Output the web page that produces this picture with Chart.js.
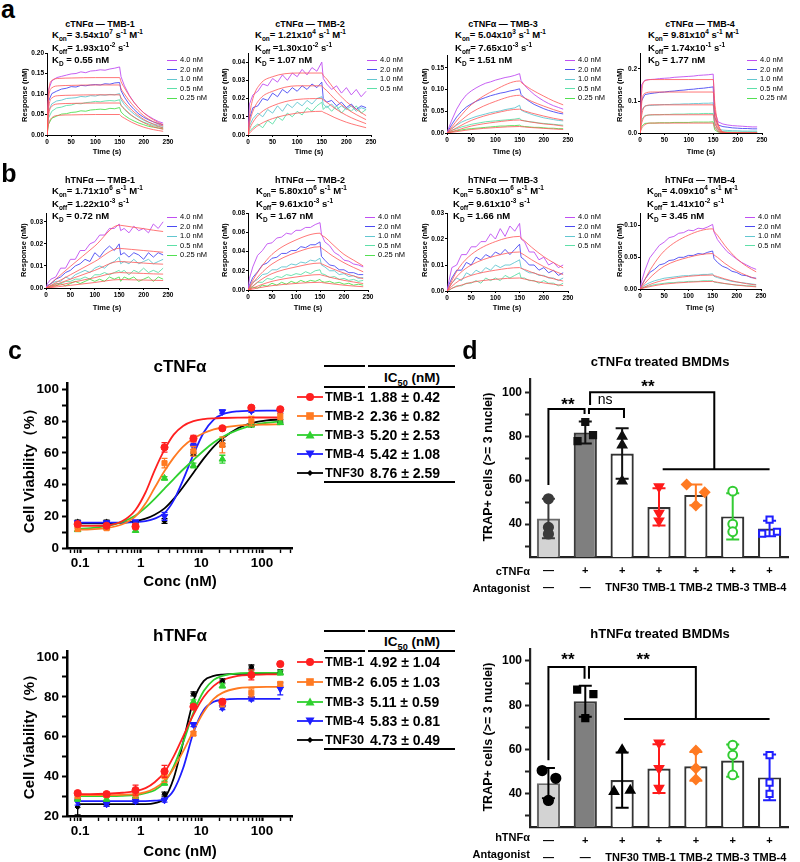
<!DOCTYPE html>
<html>
<head>
<meta charset="utf-8">
<title>TNFα antagonists</title>
<script src="https://cdn.jsdelivr.net/npm/chart.js@4.4.1/dist/chart.umd.min.js"></script>
<style>
  html, body { margin: 0; padding: 0; background: #fff; }
  body { position: relative; width: 800px; height: 862px; overflow: hidden; font-family: "Liberation Sans", Arial, sans-serif; color: #000; }
  canvas { position: absolute; }
  .t { position: absolute; white-space: nowrap; line-height: 1; }
  .t sub, .t sup { font-size: 68%; line-height: 0; }
  .ln { position: absolute; height: 0; }
</style>
</head>
<body>
<script>
// ---------- panels a / b : SPR sensorgrams ----------
const sprTime = [0, 3, 10, 20, 30, 40, 50, 60, 70, 80, 90, 100, 110, 120, 130, 140, 150, 153, 160, 170, 180, 190, 200, 210, 220, 230, 240];
const fitTime = [0, 3, 10, 25, 50, 100, 150, 153, 160, 175, 200, 220, 240];
const sprXTicks = [0, 50, 100, 150, 200, 250];
const concNames = ['4.0 nM', '2.0 nM', '1.0 nM', '0.5 nM', '0.25 nM'];

// cTNFα — TMB-1
const a1_40 = [0, .110, .132, .140, .143, .146, .149, .150, .154, .152, .156, .157, .159, .158, .161, .163, .166, .142, .120, .097, .079, .065, .054, .046, .039, .033, .029];
const a1_20 = [0, .082, .101, .107, .112, .114, .118, .117, .121, .120, .122, .123, .122, .125, .124, .127, .128, .108, .092, .075, .062, .051, .043, .037, .032, .028, .025];
const a1_10 = [0, .058, .076, .083, .085, .089, .090, .091, .094, .093, .096, .095, .098, .097, .099, .098, .101, .086, .074, .061, .051, .043, .036, .031, .027, .024, .021];
const a1_05 = [0, .041, .058, .066, .068, .072, .073, .077, .076, .079, .080, .082, .081, .083, .084, .083, .086, .073, .062, .051, .043, .036, .031, .027, .023, .020, .018];
const a1_025 = [0, .026, .041, .046, .051, .052, .055, .056, .059, .058, .061, .062, .063, .062, .065, .064, .067, .056, .048, .040, .034, .029, .025, .021, .019, .017, .015];
const a1_fit = [
  [0, .100, .133, .138, .139, .140, .140, .130, .115, .087, .054, .037, .025],
  [0, .085, .115, .120, .121, .122, .122, .113, .100, .076, .047, .032, .022],
  [0, .060, .090, .096, .097, .098, .098, .091, .080, .061, .038, .026, .017],
  [0, .045, .070, .076, .077, .078, .078, .072, .064, .048, .030, .020, .014],
  [0, .025, .042, .048, .049, .050, .050, .046, .041, .031, .019, .013, .009]];

// cTNFα — TMB-2
const a2_40 = [0, .017, .022, .024, .028, .027, .031, .029, .033, .030, .034, .032, .036, .033, .037, .035, .040, .031, .028, .025, .027, .023, .026, .022, .025, .021, .024];
const a2_20 = [0, .009, .015, .016, .020, .019, .023, .021, .025, .023, .026, .024, .027, .025, .028, .026, .029, .020, .018, .019, .016, .018, .015, .017, .014, .016, .015];
const a2_10 = [0, .005, .009, .012, .010, .014, .012, .016, .013, .017, .015, .018, .016, .019, .017, .020, .021, .017, .015, .017, .014, .016, .014, .016, .013, .015, .014];
const a2_05 = [0, .002, .004, .006, .004, .008, .006, .010, .008, .012, .010, .013, .011, .015, .013, .016, .018, .014, .016, .013, .016, .012, .015, .013, .016, .012, .014];
const a2_fit = [
  [0, .010, .020, .028, .032, .034, .034, .0327, .0307, .0253, .0183, .0141, .0106],
  [0, .006, .013, .020, .024, .027, .027, .026, .0244, .0201, .0145, .0112, .0084],
  [0, .003, .007, .012, .016, .0195, .020, .0192, .018, .0149, .0108, .0083, .0062],
  [0, .001, .003, .006, .009, .012, .013, .0125, .0117, .0097, .007, .0054, .004]];

// cTNFα — TMB-3
const a3_40 = [0, .010, .030, .055, .074, .088, .097, .104, .110, .115, .118, .122, .125, .128, .130, .133, .137, .121, .110, .099, .089, .081, .074, .068, .063, .059, .055];
const a3_20 = [0, .006, .020, .037, .050, .060, .067, .073, .078, .082, .086, .089, .092, .094, .097, .099, .102, .089, .081, .073, .066, .061, .056, .052, .049, .046, .044];
const a3_10 = [0, .003, .010, .018, .025, .030, .034, .038, .041, .044, .047, .049, .051, .054, .056, .058, .064, .053, .049, .045, .041, .038, .035, .033, .031, .029, .028];
const a3_05 = [0, .002, .006, .010, .014, .017, .020, .022, .024, .026, .027, .028, .029, .030, .031, .032, .034, .030, .028, .026, .025, .023, .022, .021, .020, .019, .018];
const a3_025 = [0, .001, .003, .005, .007, .009, .010, .011, .012, .013, .014, .015, .016, .016, .017, .017, .018, .016, .015, .014, .013, .013, .012, .011, .011, .010, .010];
const a3_fit = [
  [0, .004, .014, .035, .065, .100, .120, .117, .111, .100, .085, .074, .065],
  [0, .003, .010, .025, .047, .073, .087, .085, .081, .073, .062, .054, .047],
  [0, .002, .006, .015, .029, .046, .055, .054, .051, .046, .039, .034, .030],
  [0, .001, .003, .008, .016, .025, .030, .029, .028, .025, .021, .019, .016],
  [0, .0005, .0015, .004, .008, .0125, .015, .0146, .0139, .0125, .0107, .0093, .0081]];

// cTNFα — TMB-4
const a4_40 = [0, .150, .165, .167, .168, .170, .171, .172, .174, .175, .176, .177, .178, .180, .181, .182, .184, .070, .035, .028, .025, .023, .022, .021, .020, .019, .019];
const a4_20 = [0, .100, .120, .123, .125, .127, .128, .130, .131, .133, .134, .136, .137, .139, .140, .142, .144, .050, .025, .020, .018, .016, .015, .014, .014, .013, .013];
const a4_10 = [0, .070, .085, .086, .087, .088, .089, .089, .090, .090, .091, .091, .092, .092, .093, .093, .094, .030, .012, .009, .008, .007, .007, .006, .006, .006, .006];
const a4_05 = [0, .040, .055, .056, .057, .057, .058, .058, .059, .059, .059, .060, .060, .060, .061, .061, .061, .020, .006, .004, .004, .003, .003, .003, .003, .003, .003];
const a4_025 = [0, .020, .030, .031, .031, .032, .032, .032, .033, .033, .033, .033, .034, .034, .034, .034, .035, .010, .003, .002, .002, .002, .002, .002, .002, .002, .002];
const a4_fit = [
  [0, .120, .163, .167, .167, .167, .167, .099, .029, .002, 0, 0, 0],
  [0, .085, .124, .128, .128, .128, .128, .076, .022, .002, 0, 0, 0],
  [0, .050, .083, .088, .088, .088, .088, .052, .015, .001, 0, 0, 0],
  [0, .028, .052, .057, .057, .057, .057, .034, .010, .001, 0, 0, 0],
  [0, .013, .026, .031, .031, .031, .031, .018, .005, 0, 0, 0, 0]];

// hTNFα — TMB-1
const b1_40 = [0, .002, .004, .005, .009, .009, .013, .013, .017, .017, .020, .021, .024, .024, .027, .027, .029, .026, .027, .025, .028, .026, .027, .025, .029, .027, .030];
const b1_20 = [0, .001, .002, .004, .005, .007, .008, .010, .011, .013, .012, .016, .014, .017, .019, .017, .020, .015, .016, .014, .016, .015, .013, .016, .014, .016, .015];
const b1_10 = [0, .001, .002, .003, .003, .005, .004, .006, .007, .008, .007, .009, .010, .009, .011, .012, .014, .011, .012, .011, .013, .011, .012, .013, .011, .012, .013];
const b1_05 = [0, 0, .001, .002, .002, .003, .003, .004, .004, .005, .004, .006, .006, .007, .006, .007, .008, .007, .008, .006, .008, .007, .009, .007, .008, .007, .009];
const b1_025 = [0, 0, .001, .001, .002, .001, .002, .003, .002, .003, .004, .003, .004, .003, .005, .004, .005, .003, .005, .004, .005, .003, .004, .005, .003, .005, .004];
const b1_fit = [
  [0, .0006, .002, .005, .0098, .019, .0285, .0284, .0282, .0277, .0269, .0262, .0256],
  [0, .0004, .0012, .003, .006, .012, .018, .0179, .0178, .0175, .017, .0166, .0162],
  [0, .0002, .0008, .002, .004, .008, .012, .012, .0119, .0117, .0113, .011, .0108],
  [0, .0001, .0005, .0012, .0024, .0047, .007, .007, .0069, .0068, .0066, .0064, .0063],
  [0, .0001, .0002, .0006, .0012, .0025, .0038, .0038, .0038, .0037, .0036, .0035, .0034]];

// hTNFα — TMB-2
const b2_40 = [0, .012, .024, .036, .041, .048, .049, .054, .055, .059, .058, .062, .062, .065, .065, .068, .070, .058, .050, .046, .039, .036, .031, .030, .027, .026, .024];
const b2_20 = [0, .005, .013, .019, .026, .028, .033, .034, .038, .038, .041, .041, .045, .044, .047, .047, .050, .035, .031, .026, .025, .021, .021, .018, .018, .016, .016];
const b2_10 = [0, .003, .008, .011, .016, .017, .021, .021, .024, .024, .027, .026, .029, .028, .031, .030, .033, .026, .024, .020, .020, .016, .017, .014, .015, .012, .013];
const b2_05 = [0, .002, .004, .008, .008, .012, .011, .014, .013, .016, .015, .017, .016, .019, .017, .020, .021, .017, .016, .013, .014, .011, .012, .010, .011, .009, .010];
const b2_025 = [0, .001, .003, .002, .005, .004, .007, .005, .008, .006, .009, .007, .010, .008, .010, .009, .011, .009, .008, .009, .007, .008, .006, .007, .005, .006, .005];
const b2_fit = [
  [0, .003, .010, .022, .037, .052, .059, .057, .055, .048, .037, .031, .025],
  [0, .002, .007, .016, .027, .039, .045, .0437, .0413, .0358, .0283, .0234, .0189],
  [0, .001, .004, .010, .017, .024, .028, .0272, .0257, .0223, .0176, .0145, .0118],
  [0, .0005, .002, .005, .009, .0135, .016, .0155, .0147, .0127, .010, .0083, .0067],
  [0, .0003, .001, .0025, .0045, .0068, .008, .0078, .0073, .0064, .005, .0041, .0034]];

// hTNFα — TMB-3
const b3_40 = [0, .003, .009, .010, .014, .014, .017, .017, .019, .019, .022, .020, .024, .021, .025, .023, .026, .020, .019, .015, .015, .012, .013, .010, .011, .009, .010];
const b3_20 = [0, .002, .005, .008, .008, .011, .010, .013, .012, .014, .013, .015, .014, .016, .014, .016, .018, .013, .012, .010, .010, .008, .009, .007, .008, .006, .007];
const b3_10 = [0, .001, .003, .005, .004, .007, .006, .008, .007, .009, .008, .010, .009, .010, .010, .011, .012, .009, .008, .007, .007, .006, .006, .005, .005, .004, .005];
const b3_05 = [0, 0, .001, .002, .002, .003, .003, .004, .003, .005, .004, .005, .004, .006, .005, .006, .007, .005, .005, .004, .004, .003, .004, .003, .003, .002, .003];
const b3_fit = [
  [0, .001, .004, .009, .014, .019, .021, .0204, .0193, .0168, .0132, .0109, .0089],
  [0, .0008, .003, .0065, .010, .0135, .015, .0146, .0138, .012, .0094, .0078, .0063],
  [0, .0005, .0018, .004, .006, .008, .009, .0087, .0083, .0072, .0057, .0047, .0038],
  [0, .0003, .001, .002, .0033, .0045, .005, .0049, .0046, .004, .0031, .0026, .0021]];

// hTNFα — TMB-4
const b4_40 = [0, .011, .029, .049, .059, .069, .074, .081, .083, .088, .089, .093, .092, .096, .095, .098, .102, .090, .078, .068, .059, .053, .047, .042, .038, .034, .031];
const b4_20 = [0, .005, .015, .026, .031, .038, .040, .045, .046, .050, .050, .053, .053, .056, .055, .058, .060, .048, .042, .036, .033, .028, .026, .022, .021, .018, .017];
const b4_10 = [0, .002, .006, .010, .013, .015, .017, .018, .019, .020, .021, .021, .022, .022, .023, .023, .024, .020, .018, .016, .014, .012, .011, .010, .009, .008, .007];
const b4_05 = [0, .001, .003, .005, .007, .008, .009, .010, .010, .011, .011, .012, .012, .012, .013, .013, .013, .011, .010, .009, .008, .007, .006, .006, .005, .005, .004];
const b4_fit = [
  [0, .004, .015, .035, .060, .085, .095, .091, .085, .069, .048, .036, .027],
  [0, .0025, .009, .021, .036, .050, .056, .0537, .050, .0406, .0285, .0215, .016],
  [0, .001, .0035, .0085, .014, .020, .022, .0211, .0196, .016, .0112, .0084, .0063],
  [0, .0005, .002, .0045, .0077, .0107, .012, .0115, .0107, .0087, .0061, .0046, .0034]];

// ---------- panel c : cell viability ----------
const concs = [0.0914, 0.274, 0.823, 2.47, 7.41, 22.2, 66.7, 200];
const fitConc = [0.09, 0.15, 0.27, 0.5, 0.82, 1.2, 1.7, 2.47, 3.5, 5, 7.41, 11, 16, 22.2, 40, 66.7, 120, 200];
const concTicks = [0.07, 0.08, 0.09, 0.1, 0.2, 0.3, 0.4, 0.5, 0.6, 0.7, 0.8, 0.9, 1, 2, 3, 4, 5, 6, 7, 8, 9, 10, 20, 30, 40, 50, 60, 70, 80, 90, 100, 200, 300];
const concLabelTicks = [0.1, 1, 10, 100];
const drugNames = ['TMB-1', 'TMB-2', 'TMB-3', 'TMB-4', 'TNF30'];
const cIC50 = ['1.88 ± 0.42', '2.36 ± 0.82', '5.20 ± 2.53', '5.42 ± 1.08', '8.76 ± 2.59'];
const hIC50 = ['4.92 ± 1.04', '6.05 ± 1.03', '5.11 ± 0.59', '5.83 ± 0.81', '4.73 ± 0.49'];

const cPts = [
  [15, 14, 13.5, 63.5, 69, 75.5, 88.5, 87.5],
  [12, 12.5, 14, 53.5, 61, 65, 80, 83],
  [11.5, 13, 11, 44, 52, 56, 77.5, 79],
  [16, 16, 16.5, 20, 64, 86, 86.5, 86],
  [16.5, 16.5, 16, 17, 59.5, 66, 77.5, 80]];
const cErr = [
  [1, 1, 1.5, 3, 2, 1, 1, 1],
  [1, 1, 1, 3, 3, 5, 3, 2],
  [1, 1, 1, 1, 1.5, 2.5, 1, 1],
  [1, 1, 1, 2.5, 2, 1, 1, 1],
  [1, 1, 1, 1.5, 1, 2, 1, 1]];
const cFit = [
  [14, 14, 14.2, 17, 24, 35, 49, 62, 71.5, 77, 80, 81.3, 81.8, 82, 82.2, 82.3, 82.3, 82.3],
  [11.5, 11.8, 12.5, 15, 20, 28, 38, 48.5, 57, 64, 69, 72.5, 74.8, 76, 77.2, 77.7, 77.9, 78],
  [12, 12.5, 13.8, 16.5, 20.5, 25.5, 31, 37.5, 43.5, 49.5, 55.5, 61.5, 66.5, 70, 74.5, 77.2, 79, 79.8],
  [16, 16, 16, 16, 16.3, 17, 18.5, 22, 30, 43, 59, 73, 81, 84.3, 86.2, 86.5, 86.6, 86.6],
  [15.5, 15.5, 15.6, 16, 17, 18.5, 21, 25, 31, 38.5, 47.5, 56.5, 64, 69, 75.5, 78.7, 80.5, 81]];

const hPts = [
  [31.5, 31, 33, 42.5, 75, 77.5, 91, 96.5],
  [30, 30.5, 31, 40, 61.5, 77, 82, 86.5],
  [28.5, 28.5, 30, 36.5, 77.5, 85.5, 92, 92],
  [27, 26, 27.5, 28, 66, 74.5, 79, 84],
  [24.5, 26, 27.5, 31, 81.5, 88, 95, 92.5]];
const hErr = [
  [1, 1, 2.5, 3, 1, 1, 2.5, 1],
  [1, 1, 2, 3, 1, 2, 2, 1],
  [1, 1, 1, 1, 1, 1, 1, 1],
  [1.5, 1, 1, 1, 1, 1, 1, 3],
  [4, 1, 1, 1, 1, 1, 1, 1]];
const hFit = [
  [31, 31, 31.2, 31.7, 32.5, 34, 37, 42, 50, 60, 71, 80, 85.5, 88.3, 90.5, 91, 91.3, 91.3],
  [30.5, 30.5, 30.5, 30.7, 31, 32, 34, 37.5, 44, 52.5, 63, 72.5, 79, 82, 84.3, 84.8, 85, 85],
  [30, 30, 30, 30.2, 30.5, 31.5, 33, 37, 45, 57, 72, 83, 88.5, 90.5, 91.8, 92, 92, 92],
  [27.5, 27.5, 27.5, 27.5, 27.5, 27.5, 27.7, 28.5, 33, 44, 62, 73.5, 77.5, 78.5, 79, 79, 79, 79],
  [26, 26, 26, 26, 26, 26, 26.5, 29, 39, 57, 78, 88, 90.5, 91.2, 91.5, 91.5, 91.5, 91.5]];

// ---------- panel d : TRAP+ cells ----------
const dCategories = [['—', '—'], ['+', '—'], ['+', 'TNF30'], ['+', 'TMB-1'], ['+', 'TMB-2'], ['+', 'TMB-3'], ['+', 'TMB-4']];
const dYTicks = [30, 40, 50, 60, 70, 80, 90, 100];
const dTopMean = [42.5, 81.7, 72.1, 47.8, 53.3, 43.5, 38.0];
const dTopSD = [9, 5, 11.5, 8.5, 4.7, 10.5, 3.5];
const dTopPts = [[51.5, 38.5, 35.5], [86.5, 80.5, 77.8], [80, 76, 59.6], [57, 45, 41.5], [58, 54.5, 48.5], [55, 40, 36.5], [42, 35.6, 36.5]];
const dTopJitter = [[0, 0, 0], [0, 0.21, -0.21], [0, 0, 0], [0, 0, 0], [-0.25, 0.24, 0], [0, 0, 0], [0, -0.2, 0.2]];
const dBotMean = [44.8, 81.8, 46.2, 51.4, 52.4, 55.0, 47.4];
const dBotSD = [6.8, 7.0, 12.5, 11.0, 6.5, 7.3, 10.3];
const dBotPts = [[50.5, 47, 37], [87, 85, 74.2], [59.8, 41, 41.5], [63, 51.5, 42.5], [59.5, 51.5, 46.5], [62, 57.5, 48.5], [57.5, 45, 40]];
const dBotJitter = [[-0.17, 0.2, 0], [-0.22, 0.22, 0], [0, -0.22, 0.22], [0, 0, 0], [0, 0, 0], [0, 0, 0], [0, 0, 0]];

// significance brackets, in (bar index, % value)
const dTopBrackets = [
  [[0, 57.8], [0, 92.4], [0.98, 92.4], [0.98, 90.1]],
  [[1.1, 90.1], [1.1, 92.4], [2.05, 92.4], [2.05, 88.3]],
  [[1.13, 94.2], [1.13, 100], [4.5, 100], [4.5, 65]],
  [[3.1, 65], [6.0, 65]]];
const dTopMarks = [['**', 0.53, 96.0], ['ns', 1.54, 96.4], ['**', 2.7, 104.2]];
const dBotBrackets = [
  [[0, 55.1], [0, 97.3], [0.98, 97.3], [0.98, 92]],
  [[1.1, 92], [1.1, 97.3], [4.0, 97.3], [4.0, 73.8]],
  [[2.05, 73.8], [6.0, 73.8]]];
const dBotMarks = [['**', 0.53, 102.3], ['**', 2.57, 102.3]];

// ---------- styling ----------
const FONT = "'Liberation Sans', Arial, Helvetica, sans-serif";
Chart.defaults.font.family = FONT;
Chart.defaults.color = '#000';
const SPR_COLORS = ['#c04ff2', '#4b4bf3', '#62c6d0', '#5ee0a8', '#52e052'];
const FIT_RED = '#ff5555';
const DRUG_COLORS = ['#ff2020', '#ff7a22', '#2fd12f', '#1e1eff', '#000000'];
const DRUG_STYLE = ['circle', 'rect', 'triangle', 'triangle', 'rectRot'];
const DRUG_ROT = [0, 0, 0, 180, 0];
const DRUG_R = [3.6, 3.6, 3.8, 3.8, 2.6];

function mount(a, m) {
  const cv = document.createElement('canvas');
  const w = a.x1 - a.x0 + m.l + m.r, h = a.y1 - a.y0 + m.t + m.b;
  cv.width = w; cv.height = h;
  Object.assign(cv.style, { left: (a.x0 - m.l) + 'px', top: (a.y0 - m.t) + 'px', width: w + 'px', height: h + 'px' });
  document.body.appendChild(cv);
  return cv;
}
function frame(m) {
  return {
    responsive: false, maintainAspectRatio: false, devicePixelRatio: 1, animation: false, events: [],
    layout: { padding: { left: 0, top: m.t, right: m.r, bottom: 0 } },
    plugins: { legend: { display: false }, tooltip: { enabled: false } }
  };
}
const setTicks = list => s => { s.ticks = list.map(v => ({ value: v })); };

function txt(html, x, y, css, anchor, rot) {
  const d = document.createElement('div');
  d.className = 't';
  d.innerHTML = html;
  d.style.cssText += css;
  d.style.left = x + 'px';
  d.style.top = y + 'px';
  const ax = anchor === 'l' ? '0' : anchor === 'r' ? '-100%' : '-50%';
  d.style.transform = 'translate(' + ax + ',-50%)' + (rot ? ' rotate(-90deg)' : '');
  document.body.appendChild(d);
  return d;
}
function hline(x0, x1, y, w, color) {
  const d = document.createElement('div');
  d.className = 'ln';
  Object.assign(d.style, { left: x0 + 'px', top: (y - w / 2) + 'px', width: (x1 - x0) + 'px', borderTop: w + 'px solid ' + color });
  document.body.appendChild(d);
}

// error bars drawn from dataset.errors through the y scale
const errorBars = {
  id: 'errorBars',
  beforeDatasetDraw(chart, args) { drawErrors(chart, args, 'before'); },
  afterDatasetDraw(chart, args) { drawErrors(chart, args, 'after'); }
};
function drawErrors(chart, args, when) {
  const ds = chart.data.datasets[args.index];
  if (!ds.errors || (ds.errorWhen || 'before') !== when) return;
  const ys = chart.scales[args.meta.yAxisID];
  const ctx = chart.ctx;
  ctx.save();
  args.meta.data.forEach((el, j) => {
    const e = ds.errors[j];
    if (!e) return;
    const raw = ds.data[j];
    const v = typeof raw === 'object' ? raw.y : raw;
    const x = el.x, top = ys.getPixelForValue(v + e), bot = ys.getPixelForValue(v - e), h = ds.capHalf || 3;
    ctx.strokeStyle = Array.isArray(ds.errorColor) ? ds.errorColor[j] : ds.errorColor;
    ctx.lineWidth = ds.errorWidth || 1.5;
    ctx.beginPath();
    ctx.moveTo(x, top); ctx.lineTo(x, bot);
    ctx.moveTo(x - h, top); ctx.lineTo(x + h, top);
    ctx.moveTo(x - h, bot); ctx.lineTo(x + h, bot);
    ctx.stroke();
  });
  ctx.restore();
}

// ---------- SPR panels ----------
function sprChart(area, yMax, yTicks, dec, series, fits) {
  const m = { l: 32, t: 8, r: 12, b: 16 };
  const cv = mount(area, m);
  const datasets = [];
  fits.forEach(f => datasets.push({
    data: fitTime.map((t, i) => ({ x: t, y: f[i] })), borderColor: FIT_RED, borderWidth: 0.8,
    pointRadius: 0, cubicInterpolationMode: 'monotone'
  }));
  series.forEach((s, k) => datasets.push({
    data: sprTime.map((t, i) => ({ x: t, y: s[i] })), borderColor: SPR_COLORS[k], borderWidth: 0.9,
    pointRadius: 0, tension: 0
  }));
  const axisFont = { size: 6.5, weight: 'bold' };
  new Chart(cv, {
    type: 'line',
    data: { datasets },
    options: Object.assign(frame(m), {
      scales: {
        x: {
          type: 'linear', min: 0, max: 250, afterBuildTicks: setTicks(sprXTicks), afterFit: s => { s.height = m.b; },
          border: { color: '#000', width: 1 }, grid: { drawOnChartArea: false, tickLength: 2, color: '#000' },
          ticks: { font: axisFont, padding: 1, maxRotation: 0, autoSkip: false }
        },
        y: {
          type: 'linear', min: 0, max: yMax, afterBuildTicks: setTicks(yTicks), afterFit: s => { s.width = m.l; },
          border: { color: '#000', width: 1 }, grid: { drawOnChartArea: false, tickLength: 2, color: '#000' },
          ticks: { font: axisFont, padding: 1, autoSkip: false, callback: v => v.toFixed(dec) }
        }
      }
    })
  });
}

function sprText(o) {
  txt(o.title, o.cx, o.ty, 'font-weight:bold;font-size:9px;');
  txt('K<sub>on</sub>= ' + o.kon, o.kx, o.ty + 11, 'font-weight:bold;font-size:9.5px;', 'l');
  txt('K<sub>off</sub>' + o.koff, o.kx, o.ty + 24, 'font-weight:bold;font-size:9.5px;', 'l');
  txt('K<sub>D</sub> = ' + o.kd, o.kx, o.ty + 36, 'font-weight:bold;font-size:9.5px;', 'l');
  for (let k = 0; k < o.n; k++) {
    const y = o.ly + k * 9.6;
    hline(o.lx, o.lx + 10, y, 1, SPR_COLORS[k]);
    txt(concNames[k], o.lx + 13, y, 'font-size:7.5px;', 'l');
  }
  txt('Response (nM)', o.rx, o.ry, 'font-weight:bold;font-size:7.5px;', 'c', true);
  txt('Time (s)', o.xc, o.xy, 'font-weight:bold;font-size:7.5px;');
}

const tk2 = [0, .05, .10, .15, .20];
sprChart({ x0: 47, x1: 168, y0: 53, y1: 135 }, 0.20, tk2, 2, [a1_40, a1_20, a1_10, a1_05, a1_025], a1_fit);
sprChart({ x0: 248, x1: 371, y0: 53, y1: 135 }, 0.045, [0, .01, .02, .03, .04], 2, [a2_40, a2_20, a2_10, a2_05], a2_fit);
sprChart({ x0: 447, x1: 568, y0: 55, y1: 133 }, 0.18, [0, .05, .10, .15], 2, [a3_40, a3_20, a3_10, a3_05, a3_025], a3_fit);
sprChart({ x0: 640, x1: 762, y0: 53, y1: 133 }, 0.25, [0, .1, .2], 1, [a4_40, a4_20, a4_10, a4_05, a4_025], a4_fit);
sprChart({ x0: 46, x1: 168, y0: 213, y1: 288 }, 0.034, [0, .01, .02, .03], 2, [b1_40, b1_20, b1_10, b1_05, b1_025], b1_fit);
sprChart({ x0: 248, x1: 368, y0: 213, y1: 290 }, 0.08, [0, .02, .04, .06, .08], 2, [b2_40, b2_20, b2_10, b2_05, b2_025], b2_fit);
sprChart({ x0: 447, x1: 568, y0: 213, y1: 291 }, 0.03, [0, .01, .02, .03], 2, [b3_40, b3_20, b3_10, b3_05], b3_fit);
sprChart({ x0: 640, x1: 761, y0: 213, y1: 289 }, 0.12, [0, .05, .10], 2, [b4_40, b4_20, b4_10, b4_05], b4_fit);

sprText({ title: 'cTNFα — TMB-1', cx: 100, ty: 24, kx: 52, kon: '3.54x10<sup>7</sup> s<sup>-1</sup> M<sup>-1</sup>', koff: '= 1.93x10<sup>-2</sup> s<sup>-1</sup>', kd: '0.55 nM', lx: 167, ly: 60, n: 5, rx: 25, ry: 95, xc: 107, xy: 152 });
sprText({ title: 'cTNFα — TMB-2', cx: 310, ty: 24, kx: 255, kon: '1.21x10<sup>4</sup> s<sup>-1</sup> M<sup>-1</sup>', koff: ' =1.30x10<sup>-2</sup> s<sup>-1</sup>', kd: '1.07 nM', lx: 367, ly: 60, n: 4, rx: 225, ry: 95, xc: 309, xy: 152 });
sprText({ title: 'cTNFα — TMB-3', cx: 503, ty: 24, kx: 455, kon: '5.04x10<sup>3</sup> s<sup>-1</sup> M<sup>-1</sup>', koff: '= 7.65x10<sup>-3</sup> s<sup>-1</sup>', kd: '1.51 nM', lx: 565, ly: 60, n: 5, rx: 425, ry: 95, xc: 507, xy: 152 });
sprText({ title: 'cTNFα — TMB-4', cx: 700, ty: 24, kx: 648, kon: '9.81x10<sup>4</sup> s<sup>-1</sup> M<sup>-1</sup>', koff: '= 1.74x10<sup>-1</sup> s<sup>-1</sup>', kd: '1.77 nM', lx: 747, ly: 60, n: 5, rx: 620, ry: 95, xc: 701, xy: 152 });
sprText({ title: 'hTNFα — TMB-1', cx: 100, ty: 180, kx: 52, kon: '1.71x10<sup>6</sup> s<sup>-1</sup> M<sup>-1</sup>', koff: '= 1.22x10<sup>-3</sup> s<sup>-1</sup>', kd: '0.72 nM', lx: 167, ly: 217, n: 5, rx: 24, ry: 250, xc: 107, xy: 308 });
sprText({ title: 'hTNFα — TMB-2', cx: 310, ty: 180, kx: 256, kon: '5.80x10<sup>6</sup> s<sup>-1</sup> M<sup>-1</sup>', koff: '= 9.61x10<sup>-3</sup> s<sup>-1</sup>', kd: '1.67 nM', lx: 365, ly: 217, n: 5, rx: 225, ry: 250, xc: 308, xy: 308 });
sprText({ title: 'hTNFα — TMB-3', cx: 503, ty: 180, kx: 453, kon: '5.80x10<sup>6</sup> s<sup>-1</sup> M<sup>-1</sup>', koff: '= 9.61x10<sup>-3</sup> s<sup>-1</sup>', kd: '1.66 nM', lx: 565, ly: 217, n: 4, rx: 425, ry: 250, xc: 507, xy: 308 });
sprText({ title: 'hTNFα — TMB-4', cx: 700, ty: 180, kx: 647, kon: '4.09x10<sup>4</sup> s<sup>-1</sup> M<sup>-1</sup>', koff: '= 1.41x10<sup>-2</sup> s<sup>-1</sup>', kd: '3.45 nM', lx: 745, ly: 217, n: 4, rx: 620, ry: 250, xc: 700, xy: 308 });

// ---------- panel c ----------
function doseChart(area, yMin, yMax, yTicks, pts, errs, fits) {
  const m = { l: 44, t: 8, r: 14, b: 26 };
  const cv = mount(area, m);
  const datasets = [];
  pts.forEach((p, k) => datasets.push({
    data: concs.map((c, i) => ({ x: c, y: p[i] })), showLine: false,
    pointStyle: DRUG_STYLE[k], rotation: DRUG_ROT[k], pointRadius: DRUG_R[k],
    pointBackgroundColor: DRUG_COLORS[k], pointBorderColor: DRUG_COLORS[k], pointBorderWidth: 1,
    errors: errs[k], errorColor: DRUG_COLORS[k], errorWidth: 1.3, capHalf: 3
  }));
  fits.forEach((f, k) => datasets.push({
    data: fitConc.map((c, i) => ({ x: c, y: f[i] })), borderColor: DRUG_COLORS[k], borderWidth: 1.8,
    pointRadius: 0, cubicInterpolationMode: 'monotone'
  }));
  const tickFont = { size: 13.5, weight: 'bold' };
  new Chart(cv, {
    type: 'line',
    data: { datasets },
    plugins: [errorBars],
    options: Object.assign(frame(m), {
      scales: {
        x: {
          type: 'logarithmic', min: 0.061, max: 312, afterBuildTicks: setTicks(concTicks), afterFit: s => { s.height = m.b; },
          border: { color: '#000', width: 2.5 },
          grid: { drawOnChartArea: false, tickLength: 5, color: '#000', tickWidth: c => concLabelTicks.includes(c.tick && c.tick.value) ? 2.2 : 1.4 },
          ticks: { font: tickFont, padding: 2, maxRotation: 0, autoSkip: false, callback: v => concLabelTicks.includes(v) ? String(v) : '' }
        },
        y: {
          type: 'linear', min: yMin, max: yMax, afterBuildTicks: setTicks(yTicks), afterFit: s => { s.width = m.l; },
          border: { color: '#000', width: 2.5 },
          grid: { drawOnChartArea: false, tickLength: 5, color: '#000', tickWidth: 2 },
          ticks: { font: tickFont, padding: 3, autoSkip: false, callback: v => v % 20 === 0 ? v : '' }
        }
      }
    })
  });
}
doseChart({ x0: 67, x1: 292, y0: 380, y1: 548 }, 0, 104, [0, 10, 20, 30, 40, 50, 60, 70, 80, 90, 100], cPts, cErr, cFit);
doseChart({ x0: 67, x1: 292, y0: 648, y1: 816 }, 20, 103, [20, 30, 40, 50, 60, 70, 80, 90, 100], hPts, hErr, hFit);

function legendSymbol(k, x0, x1, y) {
  const c = DRUG_COLORS[k], w = x1 - x0, mx = w / 2, my = 7;
  let shape = '';
  if (k === 0) shape = `<circle cx="${mx}" cy="${my}" r="4" fill="${c}"/>`;
  if (k === 1) shape = `<rect x="${mx - 3.8}" y="${my - 3.8}" width="7.6" height="7.6" fill="${c}"/>`;
  if (k === 2) shape = `<polygon points="${mx},${my - 4.5} ${mx + 4.5},${my + 3.5} ${mx - 4.5},${my + 3.5}" fill="${c}"/>`;
  if (k === 3) shape = `<polygon points="${mx},${my + 4.5} ${mx + 4.5},${my - 3.5} ${mx - 4.5},${my - 3.5}" fill="${c}"/>`;
  if (k === 4) shape = `<polygon points="${mx},${my - 3} ${mx + 3},${my} ${mx},${my + 3} ${mx - 3},${my}" fill="${c}"/>`;
  const d = document.createElement('div');
  d.className = 't';
  Object.assign(d.style, { left: x0 + 'px', top: (y - my) + 'px' });
  d.innerHTML = `<svg width="${w}" height="14" xmlns="http://www.w3.org/2000/svg"><line x1="0" y1="${my}" x2="${w}" y2="${my}" stroke="${c}" stroke-width="1.8"/>${shape}</svg>`;
  document.body.appendChild(d);
}
function icTable(rows, values, lineYs, headY) {
  hline(324, 365, lineYs[0], 2, '#000'); hline(368, 455, lineYs[0], 2, '#000');
  hline(324, 365, lineYs[1], 2, '#000'); hline(368, 455, lineYs[1], 2, '#000');
  hline(324, 455, lineYs[2], 2, '#000');
  txt('IC<sub>50</sub> (nM)', 412, headY, 'font-weight:bold;font-size:13.5px;');
  rows.forEach((y, k) => {
    legendSymbol(k, 297, 323, y);
    txt(drugNames[k], 325, y, 'font-weight:bold;font-size:12.8px;', 'l');
    txt(values[k], 370, y, 'font-weight:bold;font-size:14px;', 'l');
  });
}
icTable([397, 416, 435, 454, 473], cIC50, [366, 387, 482], 378);
icTable([662, 682, 702, 721, 740], hIC50, [631, 651, 749], 642);

txt('cTNFα', 180, 366, 'font-weight:bold;font-size:17px;');
txt('hTNFα', 180, 635, 'font-weight:bold;font-size:17px;');
txt('Cell Viability（%）', 28, 467, 'font-weight:bold;font-size:15px;', 'c', true);
txt('Cell Viability（%）', 28, 733, 'font-weight:bold;font-size:15px;', 'c', true);
txt('Conc (nM)', 180, 580, 'font-weight:bold;font-size:15px;');
txt('Conc (nM)', 180, 850, 'font-weight:bold;font-size:15px;');

// ---------- panel d ----------
function bracketPlugin(lines, marks) {
  return {
    id: 'brackets',
    afterDraw(chart) {
      const xs = chart.scales.xp, ys = chart.scales.y, ctx = chart.ctx;
      ctx.save();
      ctx.strokeStyle = '#000'; ctx.lineWidth = 2;
      lines.forEach(pl => {
        ctx.beginPath();
        pl.forEach(([x, y], i) => {
          const px = xs.getPixelForValue(x), py = ys.getPixelForValue(y);
          if (i === 0) ctx.moveTo(px, py); else ctx.lineTo(px, py);
        });
        ctx.stroke();
      });
      ctx.fillStyle = '#000'; ctx.textAlign = 'center'; ctx.textBaseline = 'middle';
      marks.forEach(([s, x, y]) => {
        ctx.font = s === 'ns' ? '14px ' + FONT : 'bold 17px ' + FONT;
        ctx.fillText(s, xs.getPixelForValue(x), ys.getPixelForValue(y) + (s === 'ns' ? 0 : 4));
      });
      ctx.restore();
    }
  };
}

function barChart(area, yMax, mean, sd, pts, jitter, fills, borders, markColors, brackets, marks) {
  const m = { l: 40, t: 8, r: 10, b: 44 };
  const cv = mount(area, m);
  const styles = ['circle', 'rect', 'triangle', 'triangle', 'rectRot', 'circle', 'rect'];
  const rots = [0, 0, 0, 180, 0, 0, 0];
  const open = [false, false, false, false, false, true, true];
  const sizes = [4.6, 4.4, 4.8, 4.8, 4.6, 4.4, 4.4];
  const flat = [], pStyle = [], pRot = [], pBg = [], pBd = [], pR = [];
  pts.forEach((g, i) => g.forEach((v, j) => {
    flat.push({ x: i + jitter[i][j], y: v });
    pStyle.push(styles[i]); pRot.push(rots[i]); pR.push(sizes[i]);
    pBg.push(open[i] ? '#fff' : markColors[i]); pBd.push(markColors[i]);
  }));
  new Chart(cv, {
    type: 'bar',
    data: {
      labels: dCategories,
      datasets: [
        {
          type: 'line', xAxisID: 'xp', data: flat, showLine: false, pointStyle: pStyle, rotation: pRot,
          pointRadius: pR, pointBackgroundColor: pBg, pointBorderColor: pBd, pointBorderWidth: 2
        },
        {
          type: 'bar', xAxisID: 'x', data: mean, backgroundColor: fills, borderColor: borders, borderWidth: 2.2,
          grouped: false, barPercentage: 0.63, categoryPercentage: 1, errors: sd, errorColor: markColors, errorWhen: 'after',
          errorWidth: 2, capHalf: 6.5
        }
      ]
    },
    plugins: [errorBars, bracketPlugin(brackets, marks)],
    options: Object.assign(frame(m), {
      scales: {
        x: {
          type: 'category', afterFit: s => { s.height = m.b; },
          border: { color: '#222', width: 2.2 }, grid: { display: false, drawTicks: false },
          ticks: { font: { size: 11, weight: 'bold', lineHeight: '17px' }, padding: 5, maxRotation: 0, autoSkip: false }
        },
        xp: { type: 'linear', display: false, offset: false, grid: { offset: false }, min: -0.5, max: 6.5 },
        y: {
          type: 'linear', min: 25, max: yMax, afterBuildTicks: setTicks(dYTicks), afterFit: s => { s.width = m.l; },
          border: { color: '#222', width: 2.2 },
          grid: { drawOnChartArea: false, tickLength: 5, color: '#222', tickWidth: 2 },
          ticks: { font: { size: 12, weight: 'bold' }, padding: 3, autoSkip: false, callback: v => v % 20 === 0 ? v : '' }
        }
      }
    })
  });
}

const topMark = ['#3a3a3a', '#111', '#111', '#ff1a1a', '#ff7a22', '#33cc33', '#1f1fff'];
const botMark = ['#000', '#000', '#000', '#ff1a1a', '#ff7a22', '#33cc33', '#1f1fff'];
const barFill = ['#d3d3d3', '#7f7f7f', '#ffffff', '#ffffff', '#ffffff', '#ffffff', '#ffffff'];
const barEdge = ['#6a6a6a', '#3a3a3a', '#333', '#333', '#333', '#333', '#333'];
barChart({ x0: 530, x1: 788, y0: 377, y1: 557 }, 106, dTopMean, dTopSD, dTopPts, dTopJitter, barFill, barEdge, topMark, dTopBrackets, dTopMarks);
barChart({ x0: 530, x1: 788, y0: 647, y1: 827 }, 105.3, dBotMean, dBotSD, dBotPts, dBotJitter, barFill, barEdge, botMark, dBotBrackets, dBotMarks);

txt('cTNFα treated BMDMs', 660, 361, 'font-weight:bold;font-size:13px;');
txt('hTNFα treated BMDMs', 660, 633, 'font-weight:bold;font-size:13px;');
txt('TRAP+ cells (&gt;= 3 nuclei)', 488, 467, 'font-weight:bold;font-size:12.5px;', 'c', true);
txt('TRAP+ cells (&gt;= 3 nuclei)', 488, 737, 'font-weight:bold;font-size:12.5px;', 'c', true);
txt('cTNFα', 530, 571, 'font-weight:bold;font-size:11px;', 'r');
txt('Antagonist', 530, 588, 'font-weight:bold;font-size:11px;', 'r');
txt('hTNFα', 530, 837, 'font-weight:bold;font-size:11px;', 'r');
txt('Antagonist', 530, 854, 'font-weight:bold;font-size:11px;', 'r');

// panel letters
txt('a', 8, 9, 'font-weight:bold;font-size:25px;');
txt('b', 9, 173, 'font-weight:bold;font-size:25px;');
txt('c', 15, 350, 'font-weight:bold;font-size:25px;');
txt('d', 470, 350, 'font-weight:bold;font-size:25px;');
</script>
</body>
</html>
